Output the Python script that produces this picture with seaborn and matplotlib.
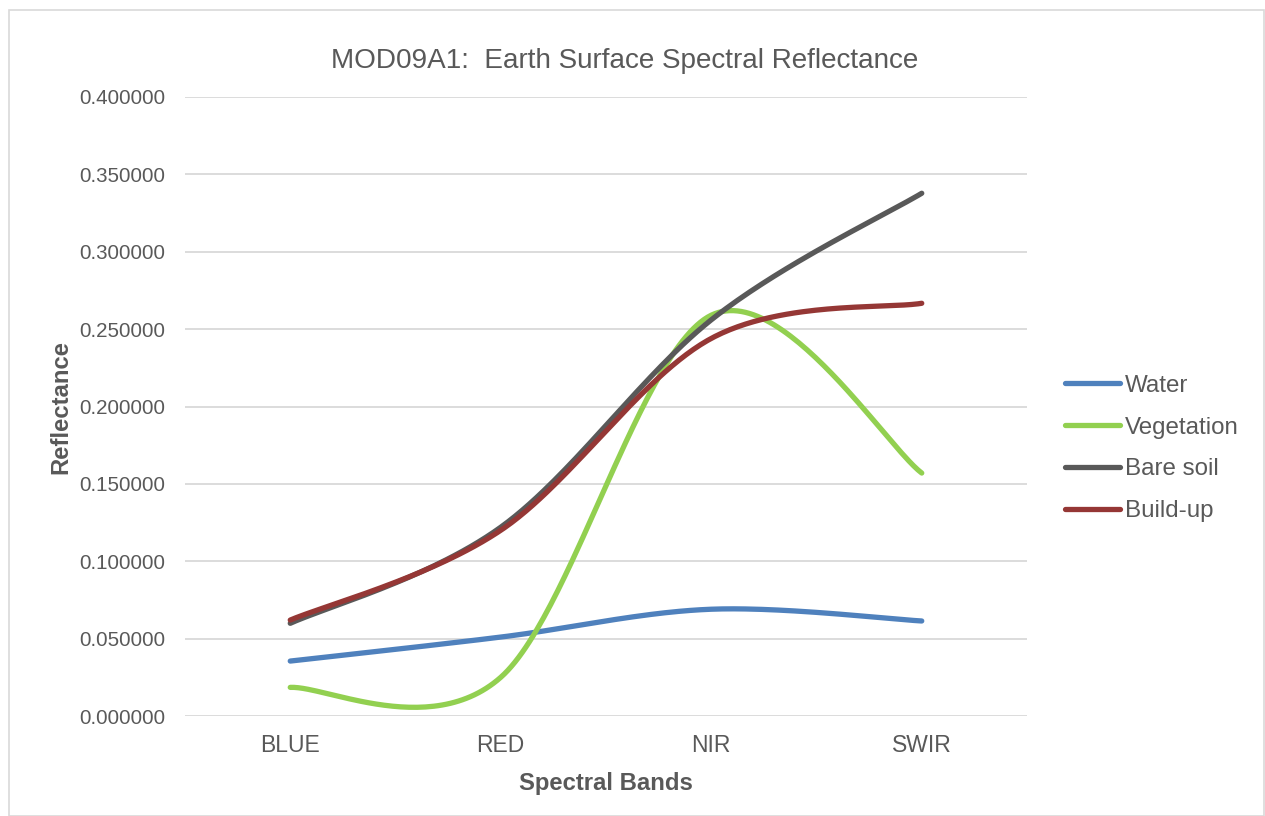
import numpy as np
import pandas as pd
import matplotlib
matplotlib.use("Agg")
import matplotlib.pyplot as plt
import seaborn as sns
from matplotlib.ticker import FormatStrFormatter, MultipleLocator
from matplotlib.patches import Rectangle

bands = ["BLUE", "RED", "NIR", "SWIR"]
series_names = ["Water", "Vegetation", "Bare soil", "Build-up"]
water = [0.0355, 0.051, 0.069, 0.0614]
vegetation = [0.0185, 0.025, 0.259, 0.157]
bare_soil = [0.0599, 0.122, 0.256, 0.3378]
build_up = [0.062, 0.120, 0.244, 0.2667]
colors = ["#4F81BD", "#92D050", "#595959", "#953735"]

def smooth(xs, ys, n=60):
    # Excel-style smoothed line: cubic Bezier with Catmull-Rom control points
    P = np.column_stack([xs, ys]).astype(float)
    Pext = np.vstack([P[0], P, P[-1]])
    out = []
    for i in range(len(P) - 1):
        p0 = Pext[i + 1]
        p3 = Pext[i + 2]
        c1 = p0 + (Pext[i + 2] - Pext[i]) / 6.0
        c2 = p3 - (Pext[i + 3] - Pext[i + 1]) / 6.0
        t = np.linspace(0, 1, n)[:, None]
        seg = ((1 - t) ** 3) * p0 + 3 * ((1 - t) ** 2) * t * c1 + 3 * (1 - t) * t ** 2 * c2 + t ** 3 * p3
        out.append(seg if i == 0 else seg[1:])
    return np.vstack(out)

frames = []
xpos = np.arange(len(bands))
for name, vals in zip(series_names, [water, vegetation, bare_soil, build_up]):
    c = smooth(xpos, vals)
    frames.append(pd.DataFrame({"x": c[:, 0], "y": c[:, 1], "series": name}))
df = pd.concat(frames, ignore_index=True)

sns.set_theme(style="white")
plt.rcParams["font.family"] = ["Liberation Sans", "DejaVu Sans"]
txt = "#595959"

fig = plt.figure(figsize=(12.65, 8.16), dpi=100)
ax = fig.add_axes([185 / 1265, 1 - 716 / 816, (1027 - 185) / 1265, (716 - 97) / 816])

sns.lineplot(data=df, x="x", y="y", hue="series", hue_order=series_names, palette=colors,
             sort=False, estimator=None, units="series", linewidth=3.8, ax=ax,
             solid_capstyle="round")

ax.set_xlim(-0.5, 3.5)
ax.set_ylim(0, 0.4)
ax.yaxis.set_major_locator(MultipleLocator(0.05))
ax.yaxis.set_major_formatter(FormatStrFormatter("%.6f"))
ax.set_xticks(xpos)
ax.set_xticklabels(bands)
ax.grid(axis="y", color="#D9D9D9", linewidth=1.3)
ax.set_axisbelow(True)
for s in ax.spines.values():
    s.set_visible(False)
ax.tick_params(axis="both", length=0, colors=txt)
ax.tick_params(axis="y", pad=14.4, labelsize=14.8)
ax.tick_params(axis="x", pad=13, labelsize=16.5)
ax.set_xlabel("Spectral Bands", fontsize=17.2, fontweight="bold", color=txt, labelpad=11)
ax.set_ylabel("Reflectance", fontsize=17.2, fontweight="bold", color=txt, labelpad=5)
ax.set_title("MOD09A1:  Earth Surface Spectral Reflectance", fontsize=20.1, color=txt, pad=21,
             x=(625 - 185) / 842)

handles, labels = ax.get_legend_handles_labels()
leg = ax.legend(handles, labels, loc="center left", bbox_to_anchor=(1065 / 1265, 1 - 448.5 / 816),
                bbox_transform=fig.transFigure, frameon=False, fontsize=17.4,
                borderaxespad=0, borderpad=0,
                handlelength=2.27, handletextpad=0.2, labelspacing=0.82, labelcolor=txt)
for h in leg.get_lines():
    h.set_linewidth(3.8)
    h.set_solid_capstyle("round")

fig.patches.append(Rectangle((9 / 1265, 0), 1 - 9 / 1265 - 0.0005, 1 - 10 / 816, transform=fig.transFigure,
                             fill=False, edgecolor="#D9D9D9", linewidth=1.2))

fig.savefig("out.png", dpi=100)
